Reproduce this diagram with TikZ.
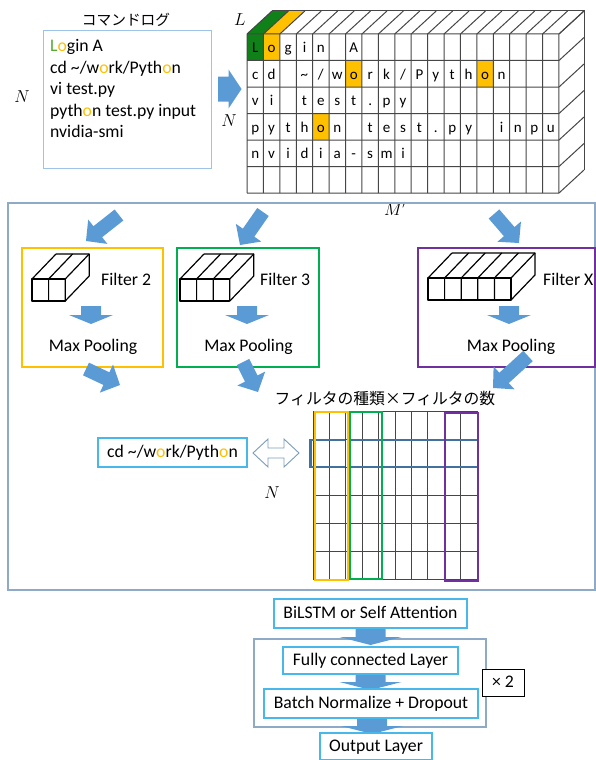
\documentclass[tikz,border=0pt]{standalone}
\usepackage{fontspec}
\setmainfont{Carlito}
\newfontfamily\cjk{Noto Sans CJK JP}
\usetikzlibrary{calc}

\definecolor{txtgreen}{RGB}{84,168,52}
\definecolor{gridgreen}{RGB}{16,128,24}
\definecolor{orng}{RGB}{255,192,0}
\definecolor{fgreen}{RGB}{0,176,80}
\definecolor{fpurple}{RGB}{112,48,160}
\definecolor{arrowfill}{RGB}{91,155,213}
\definecolor{logblue}{RGB}{157,195,230}
\definecolor{frameblue}{RGB}{143,170,198}
\definecolor{layerblue}{RGB}{72,184,234}
\definecolor{steel}{RGB}{65,113,156}
\definecolor{gridgray}{RGB}{70,70,70}

\tikzset{
  bodytext/.style={font=\fontsize{17.7}{21}\selectfont, inner sep=0pt},
  cmdtext/.style={bodytext, anchor=base west},
  gridchar/.style={font=\fontsize{15}{17}\selectfont, inner sep=0pt, anchor=base},
  mathlbl/.style={font=\fontsize{16}{18}\selectfont, inner sep=0pt},
  gridline/.style={draw=gridgray, line width=1pt},
  cubeline/.style={draw=black, line width=1.2pt, line join=round},
  filterbox/.style={line width=2pt},
  layerbox/.style={draw=layerblue, line width=1.5pt, fill=white, bodytext,
    text height=11.5pt, text depth=1pt},
  groupframe/.style={draw=frameblue, line width=1.2pt},
}

% block arrow: tail, tip, shaft half-width, head half-width, head length
\newcommand\mkblockarrow[5]{%
  \path ($(#2)!#5!(#1)$) coordinate (ba-h);
  \fill[arrowfill] ($(#1)!#3!90:(#2)$) -- ($(ba-h)!#3!90:(#2)$)
    -- ($(ba-h)!#4!90:(#2)$) -- (#2) -- ($(ba-h)!#4!-90:(#2)$)
    -- ($(ba-h)!#3!-90:(#2)$) -- ($(#1)!#3!-90:(#2)$) -- cycle;
}

% small filter block: left x, top y, number of cells
\newcommand\mkcuboid[3]{%
  \pgfmathsetmacro\cbr{#1+#3*16.6}
  \draw[cubeline] (#1,#2) rectangle (\cbr,#2+22);
  \foreach \i in {0,...,#3} {
    \draw[cubeline] ({#1+\i*16.6},#2+22) -- ({#1+\i*16.6},#2) -- ++(24,-25);
  }
  \draw[cubeline] (#1+24,#2-25) -- (\cbr+24,#2-25) -- (\cbr+24,#2-3) -- (\cbr,#2+22);
}

% one row of characters in the input tensor
\newcommand\gridrow[2]{%
  \foreach \c [count=\k from 0] in {#2} {
    \node[gridchar] (g-#1-\k) at ({247+(\k+0.5)*16.42},{34+(#1+0.5)*26.5+5.5}) {\c};
  }
}

\begin{document}
\begin{tikzpicture}[x=1pt,y=-1pt]
\useasboundingbox (0,0) rectangle (596,760);

% ---------- command log ----------
\node[inner sep=0pt, font={\cjk\fontsize{14.7}{16}\selectfont}] (logtitle) at (126,20) {コマンドログ};
\node[draw=logblue, line width=1.2pt, anchor=north west, minimum width=168pt,
      minimum height=138pt, inner sep=0pt] (logbox) at (43,30) {};
\node[cmdtext] (log1) at (50,52) {\textcolor{txtgreen}{L}\textcolor{orng}{o}gin A};
\node[cmdtext] (log2) at (50,73.3) {cd \textasciitilde/w\textcolor{orng}{o}rk/Pyth\textcolor{orng}{o}n};
\node[cmdtext] (log3) at (50,94.6) {vi test.py};
\node[cmdtext] (log4) at (50,116) {pyth\textcolor{orng}{o}n test.py input};
\node[cmdtext] (log5) at (50,137.3) {nvidia-smi};
\node[mathlbl] (nleft) at (22,97) {$N$};

\coordinate (a0s) at (218,89);
\coordinate (a0e) at (241.5,89);
\mkblockarrow{a0s}{a0e}{12.5pt}{19.5pt}{13pt}

% ---------- input tensor ----------
\fill[gridgreen] (247,34) rectangle ++(16.42,26.5);
\fill[orng] (263.42,34) rectangle ++(16.42,26.5);
\fill[orng] ({247+6*16.42},60.5) rectangle ++(16.42,26.5);
\fill[orng] ({247+14*16.42},60.5) rectangle ++(16.42,26.5);
\fill[orng] ({247+4*16.42},113.5) rectangle ++(16.42,26.5);
\fill[gridgreen] (247,34) -- (263.42,34) -- (288.42,11) -- (272,11) -- cycle;
\fill[orng] (263.42,34) -- (279.84,34) -- (304.84,11) -- (288.42,11) -- cycle;
\foreach \i in {0,...,19} {
  \draw[gridline] ({247+\i*16.42},193) -- ({247+\i*16.42},34) -- ++(25,-23);
}
\foreach \j in {0,...,6} {
  \draw[gridline] (247,{34+\j*26.5}) -- (559,{34+\j*26.5}) -- ++(25,-23);
}
\draw[gridline] (272,11) -- (584,11) -- (584,170);

\gridrow{0}{L,o,g,i,n,{},A}
\gridrow{1}{c,d,{},\textasciitilde,/,w,o,r,k,/,P,y,t,h,o,n}
\gridrow{2}{v,i,{},t,e,s,t,.,p,y}
\gridrow{3}{p,y,t,h,o,n,{},t,e,s,t,.,p,y,{},i,n,p,u}
\gridrow{4}{n,v,i,d,i,a,-,s,m,i}

\node[mathlbl] (llbl) at (240,20) {$L$};
\node[mathlbl] (nmid) at (229,121) {$N$};
\node[mathlbl] (mlbl) at (395,209) {$M'$};

% ---------- convolution stage ----------
\draw[groupframe] (8,203) rectangle (595,590);

\node[draw=orng, filterbox, anchor=north west, minimum width=141pt, minimum height=119pt] (f2box) at (21,247) {};
\node[draw=fgreen, filterbox, anchor=north west, minimum width=142pt, minimum height=119pt] (f3box) at (176,247) {};
\node[draw=fpurple, filterbox, anchor=north west, minimum width=177pt, minimum height=119pt] (fxbox) at (417,247) {};

\mkcuboid{32}{279}{2}
\mkcuboid{180}{279}{3}
\mkcuboid{428}{278}{5}

\node[bodytext, anchor=base west] (f2lbl) at (101,285.7) {Filter 2};
\node[bodytext, anchor=base west] (f3lbl) at (260,285.7) {Filter 3};
\node[bodytext, anchor=base west] (fxlbl) at (543,285.2) {Filter X};

\coordinate (d2s) at (91,306);  \coordinate (d2e) at (91,324);
\coordinate (d3s) at (247,306); \coordinate (d3e) at (247,324);
\coordinate (dxs) at (509,306); \coordinate (dxe) at (509,324);
\mkblockarrow{d2s}{d2e}{10pt}{22pt}{9pt}
\mkblockarrow{d3s}{d3e}{10pt}{22pt}{9pt}
\mkblockarrow{dxs}{dxe}{10pt}{22pt}{9pt}

\node[bodytext, anchor=base] (mp2) at (93,351.7) {Max Pooling};
\node[bodytext, anchor=base] (mp3) at (248.5,351.7) {Max Pooling};
\node[bodytext, anchor=base] (mpx) at (511,351.7) {Max Pooling};

\coordinate (i2s) at (119,215); \coordinate (i2e) at (86,241);
\coordinate (i3s) at (263,212); \coordinate (i3e) at (240,245);
\coordinate (ixs) at (494,214); \coordinate (ixe) at (519,243);
\mkblockarrow{i2s}{i2e}{7pt}{15.5pt}{15pt}
\mkblockarrow{i3s}{i3e}{7pt}{15.5pt}{15pt}
\mkblockarrow{ixs}{ixe}{7pt}{15.5pt}{15pt}

\coordinate (o2s) at (86,369);  \coordinate (o2e) at (120,385);
\coordinate (o3s) at (243,362); \coordinate (o3e) at (258,392);
\coordinate (oxs) at (528,356); \coordinate (oxe) at (493,388);
\mkblockarrow{o2s}{o2e}{7pt}{15.5pt}{15pt}
\mkblockarrow{o3s}{o3e}{7pt}{15.5pt}{15pt}
\mkblockarrow{oxs}{oxe}{7pt}{15.5pt}{15pt}

\node[inner sep=0pt, font={\cjk\fontsize{15.8}{17}\selectfont}] (featlbl) at (385,399) {フィルタの種類×フィルタの数};

% feature map
\foreach \i in {0,...,10} {
  \draw[gridline] ({313+\i*16.4},411) -- ++(0,168);
}
\foreach \j in {0,...,6} {
  \draw[gridline] (313,{411+\j*28}) -- ++(164,0);
}
\draw[steel, line width=2.5pt] (309,440) -- (345,440) (351,440) -- (477,440);
\draw[steel, line width=2.5pt] (309,467) -- (345,467) (351,467) -- (477,467);
\draw[steel, line width=2.5pt] (310.5,439) -- (310.5,468);
\node[draw=orng, line width=2.2pt, anchor=north west, minimum width=33pt, minimum height=168pt, inner sep=0pt] (selo) at (313.5,411) {};
\node[draw=fgreen, line width=2.2pt, anchor=north west, minimum width=32pt, minimum height=167pt, inner sep=0pt] (selg) at (349,411) {};
\node[draw=fpurple, line width=2.2pt, anchor=north west, minimum width=33pt, minimum height=168pt, inner sep=0pt] (selp) at (444,412) {};

\node[layerbox, minimum width=149pt, minimum height=29pt, inner sep=0pt] (cdbox) at (172.5,452.5)
  {cd \textasciitilde/w\textcolor{orng}{o}rk/Pyth\textcolor{orng}{o}n};

\coordinate (dl) at (253,453);
\coordinate (dr) at (299,453);
\draw[draw=steel!70, line width=0.9pt, fill=white, line join=miter]
  (dl) -- ($(dl)+(15,-14)$) -- ($(dl)+(15,-5)$) -- ($(dr)+(-15,-5)$) -- ($(dr)+(-15,-14)$)
  -- (dr) -- ($(dr)+(-15,14)$) -- ($(dr)+(-15,5)$) -- ($(dl)+(15,5)$) -- ($(dl)+(15,14)$) -- cycle;
\node[mathlbl] (nlow) at (272,493) {$N$};

% ---------- classifier head ----------
\draw[groupframe] (254,639) rectangle (486,727);
\coordinate (b1s) at (370.5,628); \coordinate (b1e) at (370.5,645);
\coordinate (b2s) at (370.5,674); \coordinate (b2e) at (370.5,690);
\coordinate (b3s) at (372,718);   \coordinate (b3e) at (372,734);
\mkblockarrow{b1s}{b1e}{15pt}{31pt}{8pt}
\mkblockarrow{b2s}{b2e}{15pt}{31pt}{8pt}
\mkblockarrow{b3s}{b3e}{15pt}{31pt}{8pt}

\node[layerbox, minimum width=193pt, minimum height=29pt, inner sep=0pt] (bilstm) at (370.5,613.5) {BiLSTM or Self Attention};
\node[layerbox, minimum width=175pt, minimum height=27pt, inner sep=0pt] (fc) at (370.5,660.5) {Fully connected Layer};
\node[layerbox, minimum width=214pt, minimum height=29pt, inner sep=0pt] (bn) at (371,703.5) {Batch Normalize + Dropout};
\node[layerbox, minimum width=112pt, minimum height=27pt, inner sep=0pt] (outl) at (376,746.5) {Output Layer};
\node[draw=black, line width=1pt, fill=white, bodytext, minimum width=42pt, minimum height=27pt,
      text height=11.5pt, text depth=1pt] (times2) at (503,682.5) {× 2};
\end{tikzpicture}
\end{document}
